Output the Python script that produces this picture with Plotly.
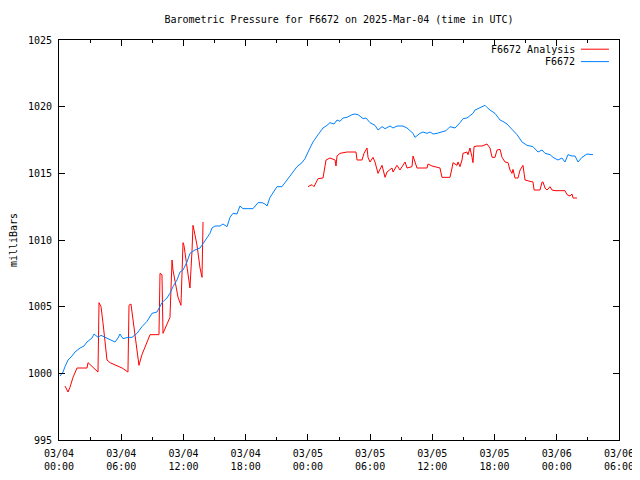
import plotly.graph_objects as go
import pandas as pd

BASE = pd.Timestamp("2025-03-04 00:00")

# F6672 station pressure (hours since 2025-03-04 00:00 UTC, millibars)
station_hours = [0.1, 0.39, 0.58, 0.87, 1.25, 1.54, 2.03, 2.41, 2.7, 3.18, 3.38, 3.76, 4.05, 4.44, 4.92,
                 5.4, 5.69, 5.88, 6.17, 6.65, 7.04, 7.52, 8.0, 8.49, 8.97, 9.45, 9.93, 10.41, 10.7, 10.99,
                 11.38, 11.67, 11.96, 12.34, 12.63, 13.11, 13.6, 14.08, 14.56, 14.75, 15.04, 15.53, 15.81,
                 16.2, 16.49, 16.78, 17.16, 17.45, 17.74, 18.23, 18.71, 19.19, 19.58, 19.86, 20.06, 20.35,
                 20.73, 21.02, 21.5, 21.99, 22.47, 22.95, 23.43, 23.72, 24.2, 24.49, 24.98, 25.46, 25.84,
                 26.13, 26.52, 26.81, 27.1, 27.39, 27.77, 28.25, 28.54, 28.83, 29.32, 29.6, 29.99, 30.47,
                 30.76, 31.15, 31.44, 31.92, 32.21, 32.59, 33.17, 33.56, 33.85, 34.14, 34.33, 34.52, 34.81,
                 35.1, 35.49, 35.78, 36.07, 36.45, 36.93, 37.32, 37.7, 38.19, 38.67, 38.96, 39.34, 39.63,
                 39.92, 40.12, 40.6, 41.08, 41.27, 41.56, 42.04, 42.53, 42.91, 43.2, 43.68, 44.17, 44.65,
                 45.13, 45.71, 46.19, 46.58, 46.87, 47.35, 47.64, 48.12, 48.5, 48.79, 49.08, 49.47, 49.76,
                 50.05, 50.43, 50.92, 51.49]
station_mb = [999.8, 1000.1, 1000.5, 1001.0, 1001.3, 1001.6, 1001.9, 1002.05, 1002.35, 1002.65, 1002.95,
              1002.7, 1002.85, 1002.7, 1002.5, 1002.35, 1002.65, 1002.95, 1002.6, 1002.7, 1002.7, 1003.0,
              1003.5, 1003.9, 1004.5, 1004.6, 1005.3, 1005.65, 1006.0, 1006.5, 1007.0, 1007.6, 1007.75,
              1008.35, 1009.0, 1009.25, 1009.4, 1010.0, 1010.5, 1010.9, 1011.05, 1011.05, 1011.2, 1011.0,
              1011.7, 1012.0, 1011.95, 1012.55, 1012.35, 1012.35, 1012.35, 1012.8, 1012.8, 1012.7, 1012.55,
              1013.2, 1013.6, 1014.0, 1014.0, 1014.5, 1015.0, 1015.5, 1015.8, 1016.1, 1016.9, 1017.35,
              1017.9, 1018.4, 1018.6, 1018.8, 1018.7, 1019.0, 1018.9, 1019.15, 1019.2, 1019.4, 1019.45,
              1019.4, 1019.1, 1019.15, 1018.8, 1018.6, 1018.25, 1018.5, 1018.35, 1018.55, 1018.4, 1018.55,
              1018.55, 1018.4, 1018.2, 1018.0, 1017.7, 1017.85, 1018.0, 1018.1, 1018.0, 1018.1, 1017.95,
              1018.0, 1018.1, 1018.2, 1018.5, 1018.4, 1018.8, 1019.1, 1019.15, 1019.3, 1019.5, 1019.75,
              1019.9, 1020.1, 1019.95, 1019.75, 1019.5, 1019.0, 1018.85, 1018.7, 1018.3, 1017.9, 1017.35,
              1017.1, 1017.0, 1016.6, 1016.75, 1016.5, 1016.4, 1016.2, 1016.0, 1016.15, 1015.85, 1016.4,
              1016.3, 1016.3, 1015.85, 1016.2, 1016.45, 1016.4]

# F6672 Analysis (None marks the gap in the record)
analysis_hours = [0.58, 0.87, 1.06, 1.35, 1.74, 2.7, 2.8, 3.18, 3.76, 3.86, 4.05, 4.24, 4.63, 4.92, 5.69,
                  6.08, 6.65, 6.75, 6.94, 7.33, 7.71, 8.0, 8.78, 9.64, 9.74, 9.93, 10.03, 10.7, 10.9, 10.99,
                  11.48, 11.76, 11.96, 12.05, 12.34, 12.63, 12.83, 12.92, 13.02, 13.31, 13.6, 13.79, 13.89,
                  19.0,
                  24.01, 24.4, 24.59, 24.98, 25.46, 25.75, 26.13, 26.62, 26.71, 26.81, 27.1, 27.77, 28.64,
                  28.74, 29.22, 29.41, 29.7, 29.8, 29.99, 30.28, 30.47, 30.76, 31.15, 31.44, 31.63, 32.11,
                  32.21, 32.59, 32.88, 33.37, 33.56, 34.04, 34.14, 34.52, 35.49, 35.58, 35.97, 36.74, 36.93,
                  37.7, 37.9, 37.99, 38.38, 38.48, 38.67, 38.86, 38.96, 39.34, 39.44, 39.63, 39.83, 39.92,
                  40.02, 40.31, 40.79, 41.27, 41.56, 41.76, 42.04, 42.24, 42.53, 42.72, 43.01, 43.3, 43.49,
                  43.68, 43.78, 43.97, 44.26, 44.46, 44.74, 44.94, 45.42, 45.71, 45.81, 46.38, 46.58, 46.67,
                  46.87, 47.06, 47.35, 47.54, 47.83, 48.79, 48.99, 49.28, 49.47, 49.57, 49.95]
analysis_mb = [999.05, 998.6, 998.95, 999.7, 1000.4, 1000.4, 1000.8, 1000.5, 1000.1, 1005.3, 1005.0, 1003.8,
               1001.0, 1000.8, 1000.55, 1000.4, 1000.1, 1005.1, 1005.2, 1003.0, 1000.6, 1001.4, 1002.9,
               1002.9, 1007.5, 1007.4, 1003.0, 1004.2, 1008.5, 1007.75, 1005.7, 1005.1, 1009.8, 1009.6,
               1008.0, 1006.4, 1009.25, 1011.1, 1010.75, 1009.6, 1007.9, 1007.2, 1011.35,
               None,
               1014.0, 1014.15, 1014.0, 1014.6, 1014.65, 1016.0, 1016.15, 1016.0, 1015.55, 1016.3, 1016.5,
               1016.6, 1016.6, 1016.0, 1016.0, 1016.5, 1016.9, 1016.2, 1015.85, 1016.2, 1015.85, 1015.0,
               1015.6, 1014.7, 1015.1, 1015.4, 1015.1, 1015.6, 1015.25, 1015.85, 1015.4, 1015.5, 1016.3,
               1015.4, 1015.4, 1015.7, 1015.55, 1015.4, 1014.7, 1014.7, 1015.4, 1015.8, 1015.6, 1015.85,
               1015.5, 1016.0, 1016.5, 1016.6, 1016.4, 1016.9, 1016.2, 1015.8, 1017.0, 1017.05, 1017.05,
               1017.2, 1016.9, 1016.2, 1016.2, 1016.75, 1016.8, 1016.2, 1015.85, 1015.8, 1015.25, 1015.0,
               1015.3, 1014.65, 1014.65, 1015.25, 1015.6, 1014.5, 1014.4, 1014.35, 1013.75, 1013.75,
               1014.35, 1014.35, 1013.9, 1013.75, 1014.0, 1013.75, 1013.7, 1013.7, 1013.4, 1013.3, 1013.45,
               1013.15, 1013.15]

tick_hours = [0, 6, 12, 18, 24, 30, 36, 42, 48, 54]
tick_labels = ["03/04<br>00:00", "03/04<br>06:00", "03/04<br>12:00", "03/04<br>18:00",
               "03/05<br>00:00", "03/05<br>06:00", "03/05<br>12:00", "03/05<br>18:00",
               "03/06<br>00:00", "03/06<br>06:00"]
series_names = ["F6672 Analysis", "F6672"]
series_colors = ["#ff0000", "#0080ff"]


def to_time(hours):
    return [BASE + pd.Timedelta(hours=h) for h in hours]


FONT = dict(family="DejaVu Sans Mono", size=10, color="black")

fig = go.Figure()
fig.add_trace(go.Scatter(x=to_time(analysis_hours), y=analysis_mb, mode="lines",
                         name=series_names[0], line=dict(color=series_colors[0], width=1),
                         connectgaps=False, showlegend=False))
fig.add_trace(go.Scatter(x=to_time(station_hours), y=station_mb, mode="lines",
                         name=series_names[1], line=dict(color=series_colors[1], width=1),
                         showlegend=False))

# gnuplot-style legend: text right-aligned, line sample to its right
for i, (nm, col) in enumerate(zip(series_names, series_colors)):
    yy = 0.977 - i * 0.031
    fig.add_annotation(xref="paper", yref="paper", x=0.921, y=yy, text=nm, showarrow=False,
                       xanchor="right", yanchor="middle", font=FONT, xshift=2)
    fig.add_shape(type="line", xref="paper", yref="paper", x0=0.932, x1=0.982, y0=yy, y1=yy,
                  line=dict(color=col, width=1))

# the page body adds an 8px offset, so the figure is 8px smaller and margins shifted
fig.update_layout(
    width=632, height=472,
    margin=dict(l=51, r=21, t=32, b=40),
    paper_bgcolor="white", plot_bgcolor="white",
    font=FONT,
    title=dict(text="Barometric Pressure for F6672 on 2025-Mar-04 (time in UTC)",
               x=0.5, xref="paper", xanchor="center", y=0.975, yanchor="middle", font=FONT),
)
fig.update_xaxes(
    range=[BASE, BASE + pd.Timedelta(hours=54)],
    tickvals=to_time(tick_hours), ticktext=tick_labels,
    ticks="inside", ticklen=6, tickcolor="black", tickwidth=1, ticklabelstandoff=4,
    minor=dict(ticks="inside", ticklen=3, tickcolor="black", dtick=3 * 3600 * 1000,
               tick0=BASE, showgrid=False),
    showline=True, linecolor="black", linewidth=1, mirror="allticks",
    showgrid=False, zeroline=False, tickfont=FONT, automargin=False,
)
fig.update_yaxes(
    range=[995, 1025], tick0=995, dtick=5,
    ticks="inside", ticklen=6, tickcolor="black", tickwidth=1, ticklabelstandoff=4,
    showline=True, linecolor="black", linewidth=1, mirror="allticks",
    showgrid=False, zeroline=False, tickfont=FONT, automargin=False,
    title=dict(text="milliBars", font=FONT, standoff=13),
)

fig.write_html("out.html")
